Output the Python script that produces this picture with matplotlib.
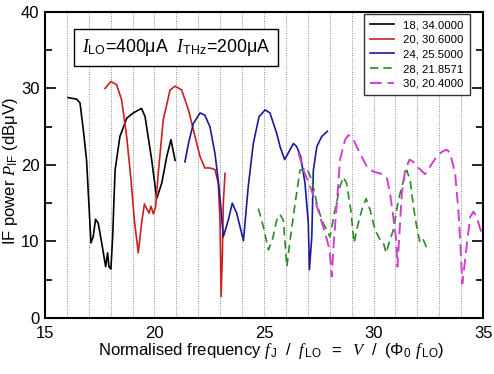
import matplotlib
matplotlib.use("Agg")
import matplotlib.pyplot as plt

plt.rcParams['font.family'] = ['Liberation Sans', 'DejaVu Sans']
plt.rcParams['mathtext.fontset'] = 'custom'
plt.rcParams['mathtext.rm'] = 'Liberation Sans'
plt.rcParams['mathtext.it'] = 'Liberation Serif:italic'
plt.rcParams['mathtext.bf'] = 'Liberation Sans:bold'

# ---- data ----
x18 = [16.06, 16.45, 16.6, 16.75, 16.9, 17.1, 17.2, 17.31, 17.43, 17.59, 17.77, 17.86, 17.92, 18.01,
       18.09, 18.2, 18.42, 18.73, 19.03, 19.41, 19.57, 19.87, 20.1, 20.33, 20.56, 20.75, 20.94]
y18 = [28.8, 28.6, 28.1, 24.6, 20.6, 9.8, 10.6, 12.9, 12.4, 9.8, 6.7, 8.5, 6.7, 6.4,
       10.6, 19.3, 23.7, 26.1, 26.8, 27.4, 26.3, 20.7, 15.6, 17.6, 21.1, 23.3, 20.6]

x20 = [17.74, 18.01, 18.27, 18.5, 18.73, 18.93, 19.08, 19.26, 19.41, 19.54, 19.64, 19.75, 19.84, 19.95,
       20.05, 20.17, 20.4, 20.71, 20.94, 21.24, 21.55, 21.85, 22.08, 22.3, 22.53, 22.76, 22.91, 22.99,
       23.04, 23.1, 23.14, 23.22]
y20 = [30.0, 30.9, 30.5, 28.5, 23.7, 18.0, 12.8, 8.5, 12.4, 14.9, 14.3, 13.7, 14.6, 13.6,
       14.5, 18.9, 25.9, 29.8, 30.3, 29.8, 27.2, 23.7, 21.1, 19.6, 19.6, 19.4, 17.6, 12.8,
       2.8, 8.5, 15.0, 18.9]

x24 = [21.39, 21.55, 21.77, 22.08, 22.3, 22.53, 22.76, 22.91, 23.04, 23.14, 23.37, 23.55, 23.75, 24.06,
       24.28, 24.51, 24.77, 25.05, 25.27, 25.58, 25.73, 25.94, 26.19, 26.34, 26.49, 26.67, 26.87, 27.02,
       27.07, 27.18, 27.25, 27.41, 27.63, 27.89]
y24 = [20.4, 22.8, 25.4, 26.8, 26.5, 25.0, 21.5, 18.0, 14.1, 10.6, 12.8, 15.0, 13.7, 10.1,
       17.2, 22.8, 26.3, 27.2, 26.8, 24.1, 22.4, 20.7, 22.0, 22.8, 22.4, 21.1, 17.6, 12.4,
       6.3, 10.6, 19.3, 22.4, 23.7, 24.4]

x28 = [24.74, 24.97, 25.2, 25.38, 25.58, 25.73, 25.88, 26.04, 26.19, 26.42, 26.64, 26.95, 27.18, 27.41,
       27.63, 27.86, 28.01, 28.24, 28.47, 28.62, 28.77, 28.96, 29.11, 29.26, 29.46, 29.66, 29.84, 30.07,
       30.3, 30.45, 30.57, 30.75, 30.9, 31.13, 31.33, 31.51, 31.67, 31.82, 31.97, 32.12, 32.27, 32.5]
y28 = [14.3, 11.9, 8.9, 10.2, 12.8, 13.5, 12.8, 6.7, 10.2, 15.0, 19.3, 19.6, 18.0, 15.0,
       12.8, 11.5, 10.6, 14.1, 17.2, 18.4, 17.6, 14.1, 9.8, 11.9, 14.1, 15.6, 14.1, 11.5,
       10.2, 9.8, 8.5, 10.2, 11.5, 15.4, 17.6, 19.3, 18.0, 14.5, 11.9, 9.8, 10.2, 8.7]

x30 = [26.57, 26.8, 27.1, 27.33, 27.56, 27.79, 27.99, 28.09, 28.16, 28.32, 28.47, 28.7, 28.85, 29.08,
       29.38, 29.69, 29.99, 30.3, 30.6, 30.75, 30.9, 31.03, 31.09, 31.18, 31.29, 31.44, 31.64, 31.82,
       32.05, 32.35, 32.58, 32.88, 33.11, 33.34, 33.49, 33.72, 33.87, 33.95, 34.05, 34.18, 34.28, 34.41,
       34.56, 34.71, 34.86, 34.98]
y30 = [21.6, 19.3, 17.2, 15.4, 13.2, 11.1, 8.9, 5.4, 8.9, 15.0, 20.7, 23.3, 23.9, 23.3,
       21.5, 19.8, 19.1, 18.9, 18.4, 16.3, 13.2, 10.2, 6.7, 11.1, 16.3, 19.3, 20.7, 20.4,
       19.6, 18.8, 19.8, 21.1, 21.7, 22.0, 21.6, 18.9, 14.1, 10.2, 4.5, 7.6, 10.2, 13.2,
       13.9, 13.2, 11.7, 10.8]

labels = ["18, 34.0000", "20, 30.6000", "24, 25.5000", "28, 21.8571", "30, 20.4000"]
grid_x = list(range(16, 35))

# ---- figure ----
fig = plt.figure(figsize=(4.94, 3.74), dpi=100)
ax = fig.add_axes([0.091, 0.150, 0.887, 0.818])

for gx in grid_x:
    ax.axvline(gx, color='#888888', lw=0.7, ls=(0, (1, 1.5)), zorder=0)

ax.plot(x18, y18, color='black', lw=1.2, label=labels[0])
ax.plot(x20, y20, color='#cc2020', lw=1.2, label=labels[1])
ax.plot(x24, y24, color='#1a1a9a', lw=1.2, label=labels[2])
ax.plot(x28, y28, color='#2a8a2a', lw=1.2, ls=(0, (5, 3)), label=labels[3])
ax.plot(x30, y30, color='#d040d0', lw=1.4, ls=(0, (6, 3)), label=labels[4])

ax.set_xlim(15, 35)
ax.set_ylim(0, 40)
ax.set_xticks([15, 20, 25, 30, 35])
ax.set_yticks([0, 10, 20, 30, 40])
ax.set_yticks([5, 15, 25, 35], minor=True)
ax.tick_params(axis='x', which='both', length=0, labelsize=12, pad=6)
ax.tick_params(axis='y', which='major', direction='in', length=8, width=1.2,
               right=True, labelsize=12, pad=4)
ax.tick_params(axis='y', which='minor', direction='in', length=5, width=1.2, right=True)
for s in ax.spines.values():
    s.set_linewidth(1.5)

ax.set_xlabel(r"Normalised frequency $f_{\,\mathrm{J}}\;\;\,/\;\;\,f_{\,\mathrm{LO}}\;\;\,=\;\;\,V\;\;\,/\;\;\,(\Phi_0\;\,f_{\,\mathrm{LO}})$",
              fontsize=12, labelpad=3)
ax.xaxis.set_label_coords(0.516, -0.075)
ax.set_ylabel(r"IF power $P_\mathrm{IF}$ (dBμV)", fontsize=12, labelpad=2)
ax.yaxis.set_label_coords(-0.058, 0.48)

ax.text(0.299, 0.884, r"$I_\mathrm{LO}$=400μA  $I_\mathrm{THz}$=200μA", transform=ax.transAxes,
        fontsize=12.8, ha='center', va='center',
        bbox=dict(boxstyle='square,pad=0.45', fc='white', ec='black', lw=1.0))

leg = ax.legend(loc='upper right', bbox_to_anchor=(0.970, 0.993), borderaxespad=0,
                fontsize=8.2, frameon=True, fancybox=False, edgecolor='black',
                handlelength=2.1, handletextpad=0.8, labelspacing=0.4, borderpad=0.55)
leg.get_frame().set_linewidth(1.0)

fig.savefig("out.png", dpi=100)
